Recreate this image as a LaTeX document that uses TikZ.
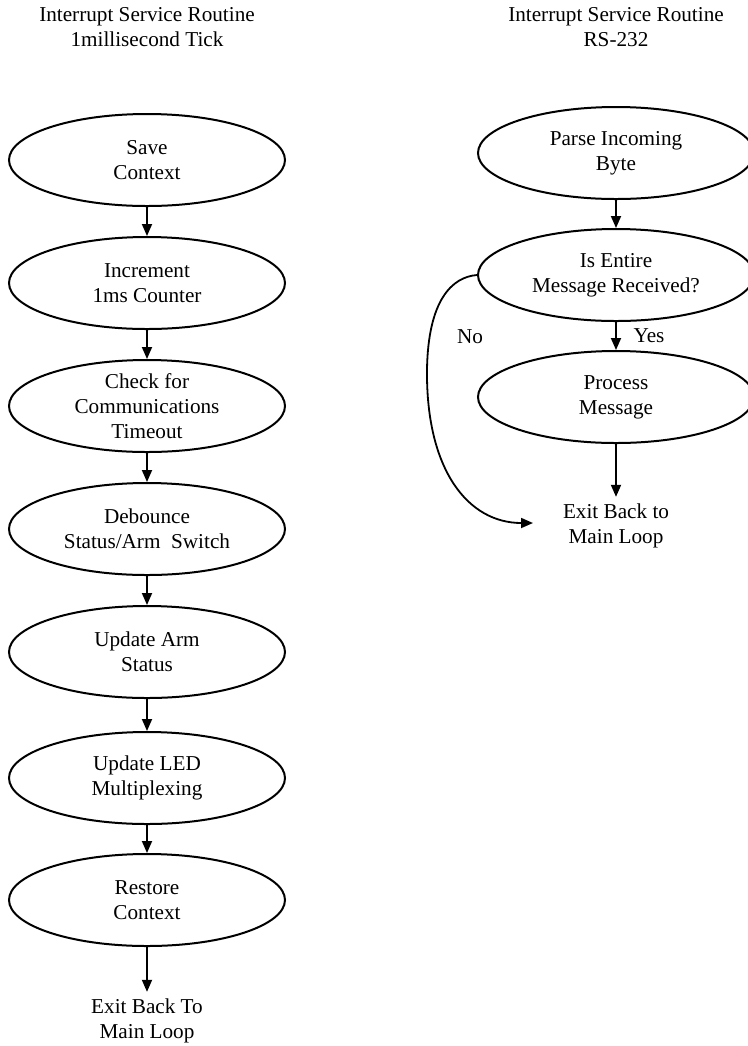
\documentclass[tikz,border=0pt]{standalone}
\usepackage{fontspec}
\setmainfont{Liberation Serif}
\usetikzlibrary{arrows.meta, positioning, shapes.geometric}

\begin{document}
\begin{tikzpicture}[x=0.5pt, y=-0.5pt,
    every node/.style={font=\fontsize{10.6}{12.5}\selectfont, align=center},
    oval/.style={draw, ellipse, line width=1pt, inner sep=0pt, inner ysep=-3pt,
      minimum width=138pt, minimum height=46pt},
    flow/.style={-{Triangle[length=6pt, width=5pt]}, line width=0.9pt}]
  \useasboundingbox (0,0) rectangle (748,1046);

  % 1 ms tick routine
  \node (tickhead) at (147,27) {Interrupt Service Routine\\1millisecond Tick};
  \node[oval] (save)    at (147,160) {Save\\Context};
  \node[oval] (incr)    at (147,283) {Increment\\1ms Counter};
  \node[oval] (commchk) at (147,406) {Check for\\Communications\\Timeout};
  \node[oval] (debounce) at (147,529) {Debounce\\Status/Arm~ Switch};
  \node[oval] (armstat) at (147,652) {Update Arm\\Status};
  \node[oval] (ledmux)  at (147,778) {Update LED\\Multiplexing};
  \node[oval] (restore) at (147,900) {Restore\\Context};
  \node (exittick) at (147,1021) {Exit Back To\\Main Loop};
  \foreach \a/\b in {save/incr, incr/commchk, commchk/debounce, debounce/armstat,
      armstat/ledmux, ledmux/restore, restore/exittick}
    \draw[flow] (\a) -- (\b);

  % RS-232 routine
  \node (rshead) at (616,27) {Interrupt Service Routine\\RS-232};
  \node[oval] (parse)   at (616,153) {Parse Incoming\\Byte};
  \node[oval] (msgdone) at (616,275) {Is Entire\\Message Received?};
  \node[oval] (process) at (616,397) {Process\\Message};
  \node (exitrs) at (616,526) {Exit Back to\\Main Loop};
  \coordinate (noend) at (533,523);
  \draw[flow] (parse) -- (msgdone);
  \draw[flow] (msgdone) -- (process) node[midway, right=5pt] (yes) {Yes};
  \draw[flow] (process) -- (exitrs);
  \draw[flow] (msgdone.west) .. controls (452,277) and (428,300) .. (427,370)
    .. controls (426,470) and (468,523) .. (noend);
  \node (no) at (470,337) {No};
\end{tikzpicture}
\end{document}
